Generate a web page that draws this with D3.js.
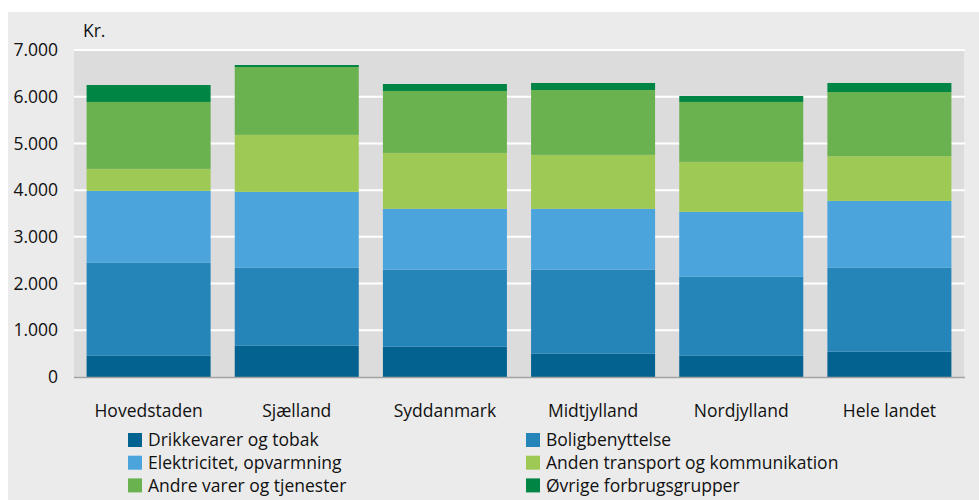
<!DOCTYPE html>
<html>
<head>
<meta charset="utf-8">
<script src="https://cdn.jsdelivr.net/npm/d3@7"></script>
<style>
  body { margin: 0; background: #ffffff; }
  text { font-family: "Open Sans", sans-serif; fill: #111111; }
</style>
</head>
<body>
<div id="chart"></div>
<script>
// Data (kr.)
var categories = ['Hovedstaden', 'Sjælland', 'Syddanmark', 'Midtjylland', 'Nordjylland', 'Hele landet'];
var seriesNames = ['Drikkevarer og tobak', 'Boligbenyttelse', 'Elektricitet, opvarmning',
  'Anden transport og kommunikation', 'Andre varer og tjenester', 'Øvrige forbrugsgrupper'];
var drikkevarer = [455, 669, 647, 498, 455, 541];
var boligbenyttelse = [1989, 1669, 1648, 1797, 1690, 1797];
var elektricitet = [1540, 1625, 1304, 1304, 1390, 1432];
var andenTransport = [471, 1220, 1198, 1156, 1070, 957];
var andreVarer = [1433, 1453, 1326, 1389, 1283, 1374];
var oevrige = [362, 43, 149, 150, 128, 193];
var yTicks = [0, 1000, 2000, 3000, 4000, 5000, 6000, 7000];

var colors = ['#03628f', '#2585b9', '#4ba4dc', '#9fc955', '#6ab150', '#008544'];

var width = 979, height = 500;
var plot = {left: 74, right: 964, top: 50, bottom: 377};

// build table for d3.stack
var seriesValues = [drikkevarer, boligbenyttelse, elektricitet, andenTransport, andreVarer, oevrige];
var table = categories.map(function(c, i) {
  var row = {category: c};
  seriesNames.forEach(function(s, j) { row[s] = seriesValues[j][i]; });
  return row;
});
var stacked = d3.stack().keys(seriesNames)(table);

var locale = d3.formatLocale({decimal: ',', thousands: '.', grouping: [3], currency: ['', ' kr.']});
var fmt = locale.format(',.0f');

var x = d3.scaleBand()
  .domain(categories)
  .range([plot.left, plot.right])
  .paddingInner(0.163)
  .paddingOuter(0.085);

var y = d3.scaleLinear()
  .domain([0, 7000])
  .range([plot.bottom, plot.top]);

var svg = d3.select('#chart').append('svg')
  .attr('width', width)
  .attr('height', height);

// outer background
svg.append('rect')
  .attr('x', 8).attr('y', 12)
  .attr('width', width - 8).attr('height', height - 12)
  .attr('fill', '#ebebeb');

// plot background
svg.append('rect')
  .attr('x', plot.left).attr('y', plot.top)
  .attr('width', plot.right - plot.left).attr('height', plot.bottom - plot.top)
  .attr('fill', '#dcdcdc');

// gridlines
svg.append('g').selectAll('line')
  .data(yTicks.filter(function(d) { return d > 0; }))
  .enter().append('line')
  .attr('x1', plot.left).attr('x2', plot.right + 1)
  .attr('y1', function(d) { return y(d); })
  .attr('y2', function(d) { return y(d); })
  .attr('stroke', '#ffffff')
  .attr('stroke-width', 2);

// bars
svg.append('g').selectAll('g')
  .data(stacked)
  .enter().append('g')
  .attr('fill', function(d, i) { return colors[i]; })
  .selectAll('rect')
  .data(function(d) { return d; })
  .enter().append('rect')
  .attr('x', function(d) { return x(d.data.category); })
  .attr('width', x.bandwidth())
  .attr('y', function(d) { return y(d[1]); })
  .attr('height', function(d) { return y(d[0]) - y(d[1]); });

// baseline
svg.append('line')
  .attr('x1', plot.left).attr('x2', plot.right + 1)
  .attr('y1', plot.bottom + 0.5).attr('y2', plot.bottom + 0.5)
  .attr('stroke', '#a3a3a3')
  .attr('stroke-width', 1.5);

// y axis labels
var yAxis = svg.append('g')
  .attr('transform', 'translate(58,0)')
  .call(d3.axisLeft(y).tickValues(yTicks).tickFormat(fmt).tickSize(0).tickPadding(0));
yAxis.select('.domain').remove();
yAxis.selectAll('text')
  .style('font-size', '17.5px')
  .attr('fill', '#111111');

svg.append('text')
  .attr('x', 83).attr('y', 37)
  .style('font-size', '17.5px')
  .text('Kr.');

// x axis labels
var xAxis = svg.append('g')
  .attr('transform', 'translate(0,' + plot.bottom + ')')
  .call(d3.axisBottom(x).tickSize(0).tickPadding(0));
xAxis.select('.domain').remove();
xAxis.selectAll('text')
  .attr('dy', null)
  .attr('y', 40)
  .style('font-size', '17.5px')
  .attr('fill', '#111111');

// legend
var legend = svg.append('g').selectAll('g')
  .data(seriesNames)
  .enter().append('g')
  .attr('transform', function(d, i) {
    var col = i % 2, row = Math.floor(i / 2);
    return 'translate(' + (col === 0 ? 128 : 526) + ',' + (433 + row * 22.7) + ')';
  });
legend.append('rect')
  .attr('width', 14).attr('height', 14)
  .attr('fill', function(d, i) { return colors[i]; });
legend.append('text')
  .attr('x', 20).attr('y', 7)
  .attr('dy', '0.35em')
  .style('font-size', '17.5px')
  .text(function(d) { return d; });
</script>
</body>
</html>
